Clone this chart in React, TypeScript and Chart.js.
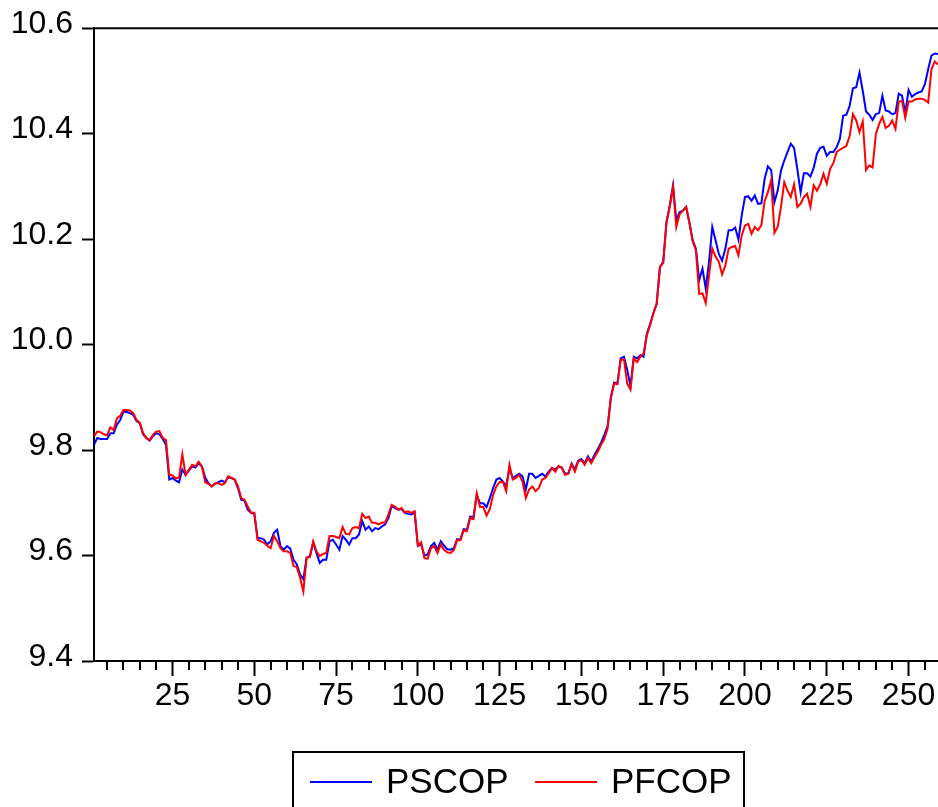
import React, { useEffect, useRef } from 'react';
import { Chart, registerables } from 'chart.js';

Chart.register(...registerables);

// Observation range (x axis)
const OBS_FIRST = 1;
const OBS_LAST = 259;

// Series values, observation 1..259
const PSCOP: number[] = [
  9.810, 9.823, 9.821, 9.821, 9.821, 9.832, 9.832, 9.848, 9.857, 9.873,
  9.872, 9.870, 9.867, 9.855, 9.851, 9.830, 9.823, 9.818, 9.826, 9.832,
  9.830, 9.821, 9.810, 9.744, 9.747, 9.742, 9.739, 9.763, 9.753, 9.761,
  9.769, 9.767, 9.775, 9.769, 9.748, 9.737, 9.731, 9.736, 9.739, 9.742,
  9.739, 9.748, 9.747, 9.744, 9.728, 9.706, 9.704, 9.687, 9.681, 9.679,
  9.633, 9.633, 9.630, 9.621, 9.627, 9.643, 9.649, 9.618, 9.611, 9.618,
  9.613, 9.592, 9.583, 9.564, 9.555, 9.596, 9.599, 9.624, 9.605, 9.586,
  9.592, 9.592, 9.627, 9.630, 9.621, 9.611, 9.637, 9.630, 9.621, 9.633,
  9.633, 9.640, 9.665, 9.649, 9.655, 9.646, 9.652, 9.650, 9.655, 9.659,
  9.671, 9.694, 9.690, 9.687, 9.688, 9.681, 9.679, 9.678, 9.682, 9.618,
  9.621, 9.600, 9.602, 9.618, 9.624, 9.611, 9.627, 9.619, 9.612, 9.611,
  9.614, 9.631, 9.630, 9.650, 9.649, 9.674, 9.673, 9.715, 9.699, 9.699,
  9.692, 9.709, 9.728, 9.744, 9.747, 9.740, 9.732, 9.766, 9.747, 9.751,
  9.755, 9.750, 9.725, 9.755, 9.755, 9.747, 9.751, 9.755, 9.750, 9.759,
  9.766, 9.763, 9.769, 9.767, 9.755, 9.756, 9.774, 9.763, 9.780, 9.783,
  9.775, 9.788, 9.778, 9.791, 9.802, 9.814, 9.829, 9.845, 9.901, 9.928,
  9.926, 9.974, 9.977, 9.952, 9.921, 9.977, 9.974, 9.980, 9.977, 10.021,
  10.039, 10.060, 10.077, 10.147, 10.157, 10.232, 10.264, 10.302, 10.236, 10.251,
  10.254, 10.261, 10.232, 10.198, 10.182, 10.122, 10.144, 10.106, 10.157, 10.223,
  10.198, 10.172, 10.159, 10.182, 10.217, 10.217, 10.222, 10.199, 10.245, 10.280,
  10.281, 10.273, 10.283, 10.267, 10.268, 10.314, 10.338, 10.331, 10.270, 10.292,
  10.330, 10.349, 10.365, 10.381, 10.373, 10.333, 10.289, 10.325, 10.325, 10.319,
  10.335, 10.362, 10.373, 10.375, 10.358, 10.365, 10.365, 10.374, 10.390, 10.434,
  10.436, 10.453, 10.486, 10.488, 10.516, 10.481, 10.442, 10.436, 10.426, 10.437,
  10.439, 10.472, 10.444, 10.442, 10.437, 10.439, 10.476, 10.472, 10.439, 10.483,
  10.470, 10.475, 10.478, 10.480, 10.494, 10.522, 10.548, 10.552, 10.551,
];

const PFCOP: number[] = [
  9.826, 9.835, 9.834, 9.830, 9.828, 9.843, 9.838, 9.860, 9.865, 9.876,
  9.876, 9.875, 9.870, 9.857, 9.852, 9.832, 9.823, 9.819, 9.829, 9.835,
  9.836, 9.823, 9.819, 9.753, 9.752, 9.746, 9.748, 9.792, 9.753, 9.763,
  9.772, 9.769, 9.778, 9.769, 9.739, 9.736, 9.731, 9.737, 9.737, 9.734,
  9.737, 9.750, 9.747, 9.744, 9.731, 9.709, 9.706, 9.693, 9.681, 9.681,
  9.630, 9.627, 9.624, 9.618, 9.614, 9.637, 9.627, 9.614, 9.608, 9.608,
  9.605, 9.580, 9.578, 9.558, 9.532, 9.596, 9.597, 9.627, 9.608, 9.599,
  9.603, 9.605, 9.637, 9.637, 9.635, 9.633, 9.654, 9.641, 9.640, 9.652,
  9.654, 9.652, 9.679, 9.671, 9.674, 9.662, 9.662, 9.659, 9.662, 9.663,
  9.678, 9.696, 9.693, 9.687, 9.690, 9.682, 9.684, 9.681, 9.684, 9.619,
  9.625, 9.595, 9.594, 9.614, 9.618, 9.605, 9.621, 9.611, 9.606, 9.605,
  9.610, 9.629, 9.629, 9.648, 9.646, 9.671, 9.669, 9.718, 9.692, 9.692,
  9.676, 9.688, 9.715, 9.731, 9.739, 9.740, 9.722, 9.772, 9.744, 9.747,
  9.753, 9.740, 9.709, 9.725, 9.731, 9.722, 9.728, 9.744, 9.747, 9.756,
  9.766, 9.759, 9.770, 9.766, 9.753, 9.755, 9.774, 9.759, 9.778, 9.781,
  9.772, 9.785, 9.775, 9.787, 9.797, 9.810, 9.821, 9.841, 9.898, 9.926,
  9.925, 9.971, 9.972, 9.926, 9.915, 9.974, 9.967, 9.977, 9.983, 10.018,
  10.037, 10.059, 10.078, 10.147, 10.155, 10.232, 10.261, 10.299, 10.223, 10.247,
  10.254, 10.261, 10.231, 10.196, 10.179, 10.096, 10.097, 10.079, 10.131, 10.182,
  10.167, 10.157, 10.133, 10.150, 10.182, 10.185, 10.187, 10.169, 10.207, 10.226,
  10.229, 10.210, 10.223, 10.217, 10.226, 10.272, 10.289, 10.312, 10.212, 10.223,
  10.261, 10.308, 10.292, 10.280, 10.304, 10.261, 10.267, 10.280, 10.286, 10.261,
  10.302, 10.292, 10.304, 10.324, 10.305, 10.333, 10.344, 10.365, 10.370, 10.373,
  10.377, 10.396, 10.437, 10.425, 10.403, 10.423, 10.331, 10.340, 10.336, 10.399,
  10.418, 10.432, 10.411, 10.415, 10.425, 10.409, 10.461, 10.462, 10.430, 10.461,
  10.461, 10.465, 10.466, 10.466, 10.464, 10.459, 10.522, 10.537, 10.531,
];

const SERIES_NAMES = ['PSCOP', 'PFCOP'];
const SERIES_COLORS = ['#0000FF', '#FF0000'];

const Y_TICKS = [9.4, 9.6, 9.8, 10.0, 10.2, 10.4, 10.6];
const X_MAJOR_TICKS = [25, 50, 75, 100, 125, 150, 175, 200, 225, 250];
const X_MINOR_TICKS = [
  5, 10, 15, 20, 30, 35, 40, 45, 55, 60, 65, 70, 80, 85, 90, 95,
  105, 110, 115, 120, 130, 135, 140, 145, 155, 160, 165, 170,
  180, 185, 190, 195, 205, 210, 215, 220, 230, 235, 240, 245, 255,
];

const FONT_FAMILY = '"Liberation Sans", Arial, sans-serif';

const framePlugin = {
  id: 'eviewsFrame',
  afterDraw(chart: any) {
    const { ctx, chartArea } = chart;
    const xs = chart.scales.x;
    ctx.save();
    ctx.strokeStyle = '#000';
    ctx.lineWidth = 2;
    // top frame line
    ctx.beginPath();
    ctx.moveTo(chartArea.left - 1, chartArea.top);
    ctx.lineTo(chartArea.right + 2, chartArea.top);
    ctx.stroke();
    // minor ticks on x axis
    ctx.beginPath();
    for (const v of X_MINOR_TICKS) {
      const px = Math.round(xs.getPixelForValue(v));
      ctx.moveTo(px, chartArea.bottom);
      ctx.lineTo(px, chartArea.bottom + 9);
    }
    ctx.stroke();

    // legend box
    const boxL = 293, boxT = 752, boxR = 744;
    ctx.strokeRect(boxL, boxT, boxR - boxL, 100);
    const lineY = 782;
    const items = [
      { x0: 310, x1: 372, tx: 386 },
      { x0: 535, x1: 597, tx: 611 },
    ];
    ctx.font = `35px ${FONT_FAMILY}`;
    ctx.textBaseline = 'middle';
    ctx.textAlign = 'left';
    items.forEach((it, k) => {
      ctx.strokeStyle = SERIES_COLORS[k];
      ctx.lineWidth = 2;
      ctx.beginPath();
      ctx.moveTo(it.x0, lineY);
      ctx.lineTo(it.x1, lineY);
      ctx.stroke();
      ctx.fillStyle = '#000';
      ctx.fillText(SERIES_NAMES[k], it.tx, lineY + 1);
    });
    ctx.restore();
  },
};

export default function App() {
  const ref = useRef<HTMLCanvasElement | null>(null);

  useEffect(() => {
    document.body.style.margin = '0';
    const canvas = ref.current;
    if (!canvas) return;
    const seriesList = [PSCOP, PFCOP];
    const chart = new Chart(canvas, {
      type: 'line',
      data: {
        datasets: seriesList.map((vals, k) => ({
          label: SERIES_NAMES[k],
          data: vals.map((y, j) => ({ x: OBS_FIRST + j, y })),
          borderColor: SERIES_COLORS[k],
          backgroundColor: SERIES_COLORS[k],
          borderWidth: 2,
          pointRadius: 0,
          tension: 0,
          fill: false,
          order: k === 0 ? 1 : 0,
        })),
      },
      options: {
        responsive: false,
        animation: false,
        devicePixelRatio: 1,
        layout: { padding: { top: 28, right: 0, bottom: 0, left: 0 } },
        plugins: {
          legend: { display: false },
          tooltip: { enabled: false },
        },
        scales: {
          x: {
            type: 'linear',
            min: OBS_FIRST,
            max: OBS_LAST,
            afterBuildTicks: (s: any) => {
              s.ticks = X_MAJOR_TICKS.map((v) => ({ value: v }));
            },
            afterFit: (s: any) => {
              s.height = 146;
            },
            grid: {
              drawOnChartArea: false,
              tickLength: 15,
              tickWidth: 2,
              tickColor: '#000',
            },
            border: { color: '#000', width: 2 },
            ticks: {
              autoSkip: false,
              maxRotation: 0,
              padding: 1,
              color: '#000',
              font: { family: FONT_FAMILY, size: 32 },
              callback: (v: any) => String(v),
            },
          },
          y: {
            type: 'linear',
            min: 9.4,
            max: 10.6,
            afterBuildTicks: (s: any) => {
              s.ticks = Y_TICKS.map((v) => ({ value: v }));
            },
            afterFit: (s: any) => {
              s.width = 94;
            },
            grid: {
              drawOnChartArea: false,
              tickLength: 12,
              tickWidth: 2,
              tickColor: '#000',
            },
            border: { color: '#000', width: 2 },
            ticks: {
              padding: 9,
              labelOffset: -4,
              color: '#000',
              font: { family: FONT_FAMILY, size: 32 },
              callback: (v: any) => Number(v).toFixed(1),
            },
          },
        },
      },
      plugins: [framePlugin],
    });
    return () => chart.destroy();
  }, []);

  return (
    <canvas
      ref={ref}
      width={938}
      height={807}
      style={{ display: 'block', width: 938, height: 807 }}
    />
  );
}
